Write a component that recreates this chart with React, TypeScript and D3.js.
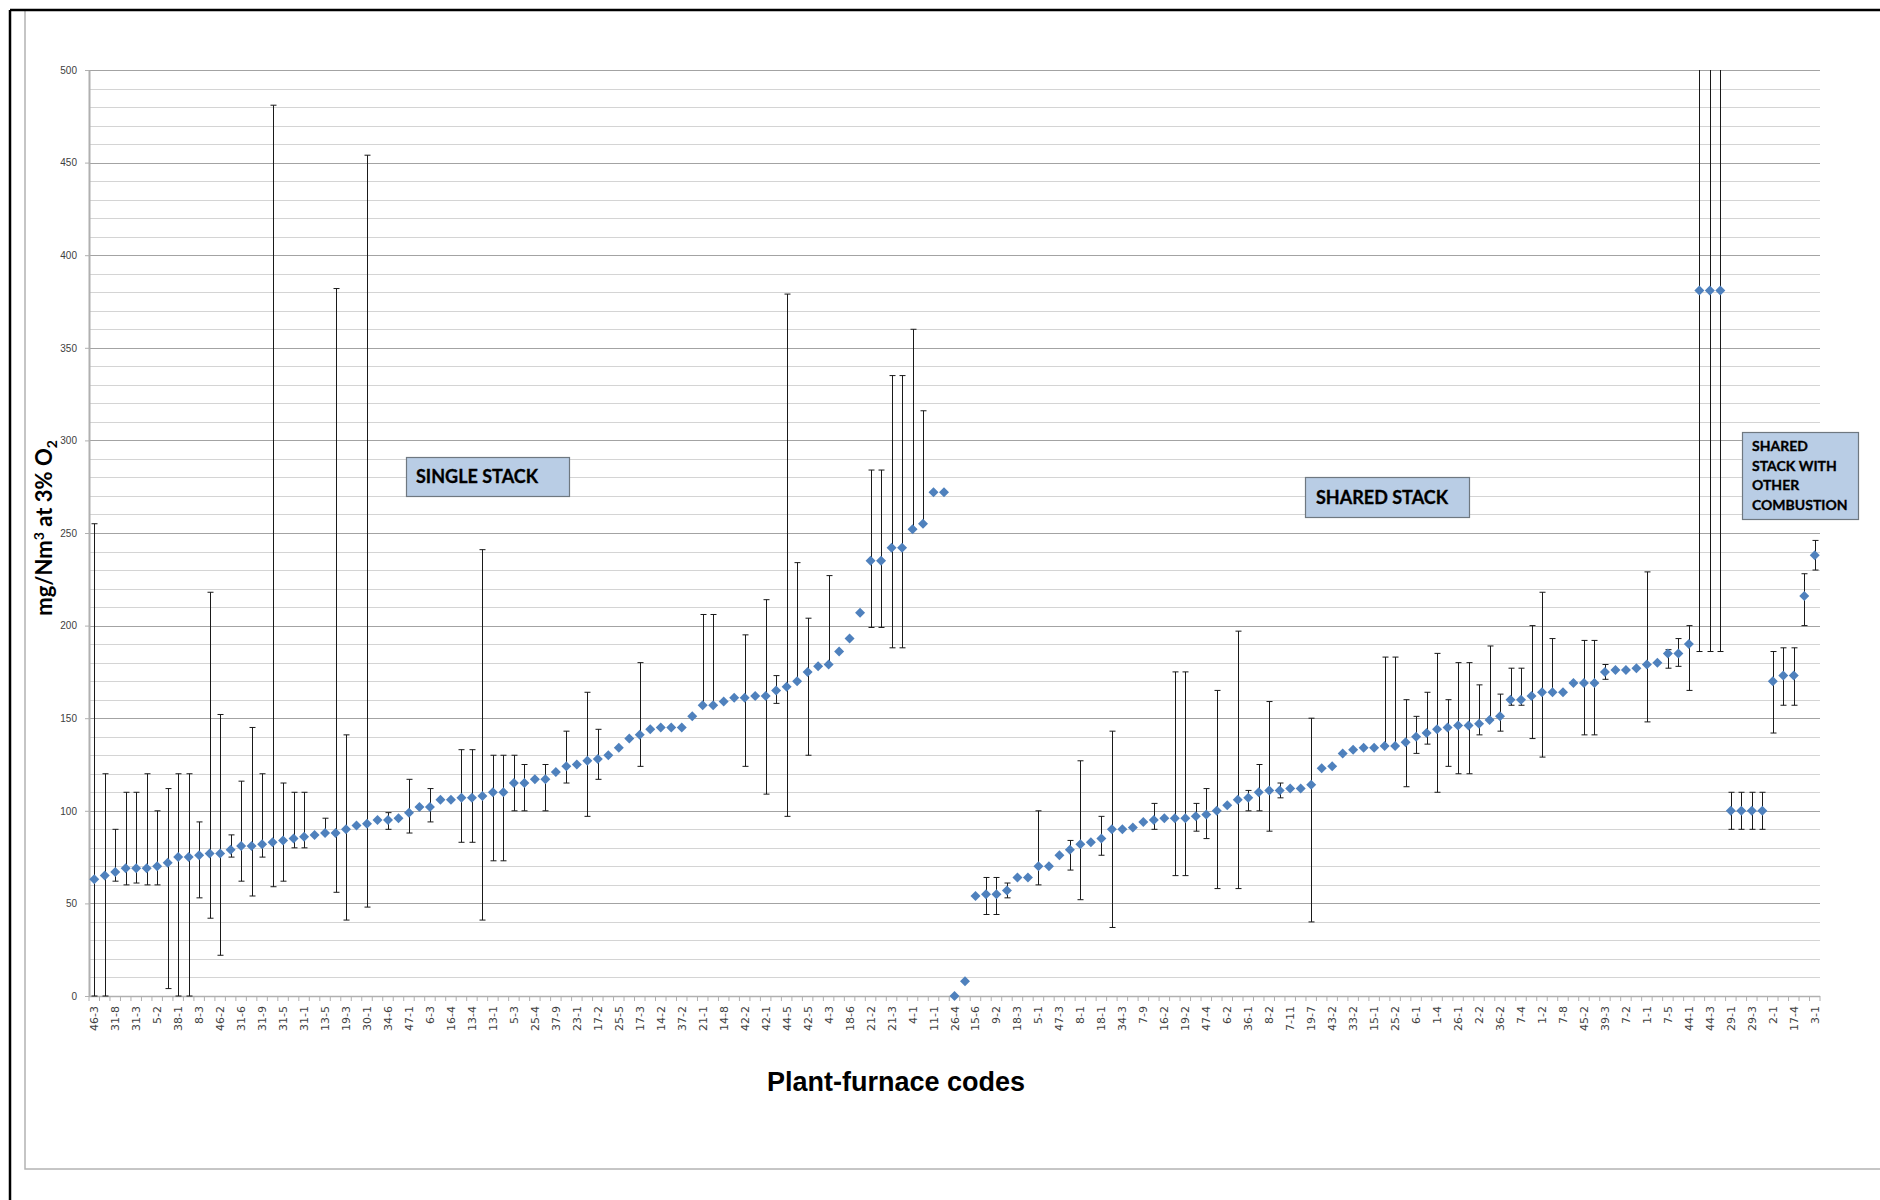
import * as React from "react";
import * as d3 from "d3";
import { useEffect, useRef } from "react";

// every other plant-furnace code is printed on the axis
const tickLabels = [
  "46-3", "31-8", "31-3", "5-2", "38-1", "8-3", "46-2", "31-6", "31-9", "31-5",
  "31-1", "13-5", "19-3", "30-1", "34-6", "47-1", "6-3", "16-4", "13-4", "13-1",
  "5-3", "25-4", "37-9", "23-1", "17-2", "25-5", "17-3", "14-2", "37-2", "21-1",
  "14-8", "42-2", "42-1", "44-5", "42-5", "4-3", "18-6", "21-2", "21-3", "4-1",
  "11-1", "26-4", "15-6", "9-2", "18-3", "5-1", "47-3", "8-1", "18-1", "34-3",
  "7-9", "16-2", "19-2", "47-4", "6-2", "36-1", "8-2", "7-11", "19-7", "43-2",
  "33-2", "15-1", "25-2", "6-1", "1-4", "26-1", "2-2", "36-2", "7-4", "1-2",
  "7-8", "45-2", "39-3", "7-2", "1-1", "7-5", "44-1", "44-3", "29-1", "29-3",
  "2-1", "17-4", "3-1",
];

// mean concentration per furnace, mg/Nm3 at 3% O2
const values = [
  63, 65, 67, 69, 69, 69, 70, 72, 75, 75,
  76, 77, 77, 79, 81, 81, 82, 83, 84, 85,
  86, 87, 88, 88, 90, 92, 93, 95, 95, 96,
  99, 102, 102, 106, 106, 107, 107, 108, 110, 110,
  115, 115, 117, 117, 121, 124, 125, 127, 128, 130,
  134, 139, 141, 144, 145, 145, 145, 151, 157, 157,
  159, 161, 161, 162, 162, 165, 167, 170, 175, 178,
  179, 186, 193, 207, 235, 235, 242, 242, 252, 255,
  272, 272, 0, 8, 54, 55, 55, 57, 64, 64,
  70, 70, 76, 79, 82, 83, 85, 90, 90, 91,
  94, 95, 96, 96, 96, 97, 98, 100, 103, 106,
  107, 110, 111, 111, 112, 112, 114, 123, 124, 131,
  133, 134, 134, 135, 135, 137, 140, 142, 144, 145,
  146, 146, 147, 149, 151, 160, 160, 162, 164, 164,
  164, 169, 169, 169, 175, 176, 176, 177, 179, 180,
  185, 185, 190, 381, 381, 381, 100, 100, 100, 100,
  170, 173, 173, 216, 238,
];

// error bar ends (null = no bar)
const errLow = [
  0, 0, 62, 60, 61, 60, 60, 4, 0, 0,
  53, 42, 22, 75, 62, 54, 75, 59, 62, 80,
  80, null, 88, 56, 41, null, 48, null, 90, null,
  88, null, 94, null, null, 83, 83, 41, 73, 73,
  100, 100, null, 100, null, 115, null, 97, 117, null,
  null, null, 124, null, null, null, null, null, 157, 157,
  null, null, 124, null, 109, 158, 97, 170, 130, null,
  179, null, null, null, 199, 199, 188, 188, 252, 255,
  null, null, null, null, null, 44, 44, 53, null, null,
  60, null, null, 68, 52, null, 76, 37, null, null,
  null, 90, null, 65, 65, 89, 85, 58, null, 58,
  100, 100, 89, 107, null, null, 40, null, null, null,
  null, null, null, 135, 135, 113, 131, 136, 110, 124,
  120, 120, 141, 149, 143, 157, 157, 139, 129, 164,
  null, null, 141, 141, 171, null, null, null, 148, null,
  177, 178, 165, 186, 186, 186, 90, 90, 90, 90,
  142, 157, 157, 200, 230,
];

const errHigh = [
  255, 120, 90, 110, 110, 120, 100, 112, 120, 120,
  94, 218, 152, 87, 116, 145, 120, 481, 115, 110,
  110, null, 96, 382, 141, null, 454, null, 99, null,
  117, null, 112, null, null, 133, 133, 241, 130, 130,
  130, 125, null, 125, null, 143, null, 164, 144, null,
  null, null, 180, null, null, null, null, null, 206, 206,
  null, null, 195, null, 214, 173, 379, 234, 204, null,
  227, null, null, null, 284, 284, 335, 335, 360, 316,
  null, null, null, null, null, 64, 64, 61, null, null,
  100, null, null, 84, 127, null, 97, 143, null, null,
  null, 104, null, 175, 175, 104, 112, 165, null, 197,
  111, 125, 159, 115, null, null, 150, null, null, null,
  null, null, null, 183, 183, 160, 151, 164, 185, 160,
  180, 180, 168, 189, 163, 177, 177, 200, 218, 193,
  null, null, 192, 192, 179, null, null, null, 229, null,
  187, 193, 200, 600, 600, 600, 110, 110, 110, 110,
  186, 188, 188, 228, 246,
];

const yTicks = [0, 50, 100, 150, 200, 250, 300, 350, 400, 450, 500];

const singleStackNote = ["SINGLE STACK"];
const sharedStackNote = ["SHARED STACK"];
const otherCombustionNote = ["SHARED", "STACK WITH", "OTHER", "COMBUSTION"];

function generateChart(svgRef: React.RefObject<SVGSVGElement>) {
  const svg = d3.select(svgRef.current);
  const width = 1880;
  const height = 1200;
  const left = 89;
  const right = 1820;
  const top = 70;
  const bottom = 996;
  svg.selectAll("*").remove();
  svg.attr("width", width).attr("height", height);

  svg.append("rect").attr("width", width).attr("height", height).attr("fill", "white");

  // page frame
  svg
    .append("rect")
    .attr("x", 25)
    .attr("y", 10)
    .attr("width", 1900)
    .attr("height", 1159)
    .attr("fill", "none")
    .attr("stroke", "#b3b3b3")
    .attr("stroke-width", 1.5);
  svg.append("line").attr("x1", 10).attr("x2", 10).attr("y1", 10).attr("y2", height)
    .attr("stroke", "black").attr("stroke-width", 2.5);
  svg.append("line").attr("x1", 10).attr("x2", width).attr("y1", 10).attr("y2", 10)
    .attr("stroke", "black").attr("stroke-width", 2.5);

  const idx = values.map((_, i) => i);
  const xScale = d3.scaleBand<number>().domain(idx).range([left, right]).padding(0);
  const cx = (i: number) => xScale(i)! + xScale.bandwidth() / 2;
  const yScale = d3.scaleLinear().domain([0, 500]).range([bottom, top]);

  // gridlines, every 10
  const grid = d3.range(10, 501, 10);
  svg
    .append("g")
    .selectAll("line")
    .data(grid)
    .enter()
    .append("line")
    .attr("x1", left)
    .attr("x2", right)
    .attr("y1", (d) => Math.round(yScale(d)) + 0.5)
    .attr("y2", (d) => Math.round(yScale(d)) + 0.5)
    .attr("stroke", (d) => (d % 50 === 0 ? "#a3a3a3" : "#d4d4d4"))
    .attr("stroke-width", 1);

  // y axis
  const yAxis = d3
    .axisLeft(yScale)
    .tickValues(yTicks)
    .tickSize(4)
    .tickSizeOuter(0)
    .tickPadding(8);
  const yg = svg
    .append("g")
    .attr("transform", `translate(${left}, 0)`)
    .attr("font-family", '"DejaVu Sans", Verdana, sans-serif')
    .attr("font-size", 12)
    .call(yAxis);
  yg.select(".domain").attr("stroke", "#b0b0b0").attr("stroke-width", 2);
  yg.selectAll(".tick line").attr("stroke", "#b0b0b0");
  yg.selectAll(".tick text").attr("fill", "#404040");

  // x axis line and category ticks
  svg
    .append("line")
    .attr("x1", left)
    .attr("x2", right)
    .attr("y1", bottom + 0.5)
    .attr("y2", bottom + 0.5)
    .attr("stroke", "#b0b0b0")
    .attr("stroke-width", 1.5);
  svg
    .append("g")
    .selectAll("line")
    .data(d3.range(values.length + 1))
    .enter()
    .append("line")
    .attr("x1", (i) => left + i * xScale.bandwidth())
    .attr("x2", (i) => left + i * xScale.bandwidth())
    .attr("y1", bottom)
    .attr("y2", bottom + 5)
    .attr("stroke", "#b0b0b0");

  svg
    .append("g")
    .attr("font-family", '"DejaVu Sans", Verdana, sans-serif')
    .attr("font-size", 11)
    .attr("fill", "#404040")
    .selectAll("text")
    .data(tickLabels)
    .enter()
    .append("text")
    .attr("transform", (_, k) => `translate(${cx(k * 2) + 4}, ${bottom + 10}) rotate(-90)`)
    .attr("text-anchor", "end")
    .text((d) => d);

  // error bars
  const bars = idx.filter((i) => errLow[i] !== null && errHigh[i] !== null);
  const eb = svg.append("g").attr("stroke", "#1a1a1a").attr("stroke-width", 1);
  bars.forEach((i) => {
    const x = Math.round(cx(i)) + 0.5;
    const lo = yScale(errLow[i] as number);
    const hiVal = errHigh[i] as number;
    const hi = yScale(Math.min(hiVal, 500));
    eb.append("line").attr("x1", x).attr("x2", x).attr("y1", lo).attr("y2", hi);
    eb.append("line").attr("x1", x - 3).attr("x2", x + 3).attr("y1", lo).attr("y2", lo);
    if (hiVal <= 500) {
      eb.append("line").attr("x1", x - 3).attr("x2", x + 3).attr("y1", hi).attr("y2", hi);
    }
  });

  // diamond markers
  const diamond = d3.symbol().type(d3.symbolSquare).size(50);
  svg
    .append("g")
    .selectAll("path")
    .data(values)
    .enter()
    .append("path")
    .attr("d", diamond()!)
    .attr("transform", (d, i) => `translate(${cx(i)}, ${yScale(d)}) rotate(45)`)
    .attr("fill", "#4f81bd");

  // annotation boxes
  const note = (lines: string[], x: number, y: number, w: number, h: number, size: number, lh: number, tx: number, ty: number) => {
    const g = svg.append("g");
    g.append("rect")
      .attr("x", x)
      .attr("y", y)
      .attr("width", w)
      .attr("height", h)
      .attr("fill", "#b9cde5")
      .attr("stroke", "#6f7880")
      .attr("stroke-width", 1.2);
    g.selectAll("text")
      .data(lines)
      .enter()
      .append("text")
      .attr("x", tx)
      .attr("y", (_, k) => ty + k * lh)
      .attr("font-family", "Lato, 'Open Sans', sans-serif")
      .attr("font-weight", "bold")
      .attr("font-size", size)
      .attr("fill", "#000")
      .attr("stroke", "#000")
      .attr("stroke-width", 0.3)
      .text((d) => d);
  };
  note(singleStackNote, 406.5, 457.5, 163, 39, 18, 0, 416, 483);
  note(sharedStackNote, 1305.5, 477.5, 164, 40, 18, 0, 1316, 504);
  note(otherCombustionNote, 1742.5, 432.5, 116, 87, 14, 19.5, 1752, 451);

  // axis titles
  const yt = svg
    .append("text")
    .attr("transform", `translate(52, 528) rotate(-90)`)
    .attr("text-anchor", "middle")
    .attr("font-family", "Lato, sans-serif")
    .attr("font-weight", "bold")
    .attr("font-size", 22)
    .attr("fill", "#000");
  yt.append("tspan").text("mg/Nm");
  yt.append("tspan").attr("font-size", 14).attr("dy", -8).text("3");
  yt.append("tspan").attr("dy", 8).text(" at 3% O");
  yt.append("tspan").attr("font-size", 14).attr("dy", 5).text("2");

  svg
    .append("text")
    .attr("x", 896)
    .attr("y", 1091)
    .attr("text-anchor", "middle")
    .attr("font-family", '"Liberation Sans", Arial, sans-serif')
    .attr("font-weight", "bold")
    .attr("font-size", 27)
    .attr("fill", "#000")
    .text("Plant-furnace codes");
}

export default function App() {
  const svg = useRef<SVGSVGElement>(null);
  useEffect(() => {
    generateChart(svg);
  }, []);
  return (
    <div style={{ position: "absolute", left: 0, top: 0 }}>
      <svg ref={svg} style={{ display: "block" }} />
    </div>
  );
}
